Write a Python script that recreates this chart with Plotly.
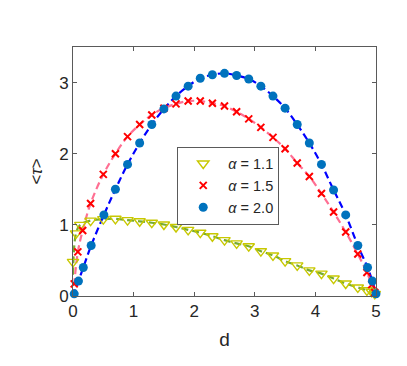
import plotly.graph_objects as go

# alpha = 2.0 (blue circles)
d_a20 = [0.02, 0.09, 0.17, 0.30, 0.51, 0.70, 0.90, 1.10, 1.30, 1.50, 1.70, 1.90, 2.10, 2.30, 2.50,
         2.70, 2.90, 3.10, 3.30, 3.50, 3.70, 3.90, 4.10, 4.30, 4.50, 4.70, 4.86, 4.94, 5.00]
t_a20 = [0.03, 0.21, 0.40, 0.71, 1.14, 1.50, 1.85, 2.15, 2.41, 2.63, 2.81, 2.95, 3.06, 3.11, 3.13,
         3.10, 3.05, 2.95, 2.81, 2.64, 2.41, 2.15, 1.85, 1.49, 1.14, 0.71, 0.40, 0.21, 0.03]

# alpha = 1.5 (red crosses)
d_a15 = [0.02, 0.08, 0.16, 0.29, 0.50, 0.70, 0.90, 1.10, 1.30, 1.50, 1.70, 1.90, 2.10, 2.30, 2.50,
         2.70, 2.90, 3.10, 3.30, 3.50, 3.70, 3.90, 4.10, 4.30, 4.50, 4.70, 4.85, 4.93, 4.98]
t_a15 = [0.17, 0.62, 0.92, 1.30, 1.71, 2.00, 2.24, 2.41, 2.545, 2.64, 2.70, 2.74, 2.74, 2.71, 2.67,
         2.59, 2.49, 2.37, 2.23, 2.07, 1.87, 1.68, 1.44, 1.18, 0.90, 0.59, 0.33, 0.16, 0.05]

# alpha = 1.1 (yellow triangles)
d_a11 = [0.00, 0.05, 0.12, 0.29, 0.50, 0.70, 0.90, 1.10, 1.30, 1.50, 1.70, 1.90, 2.10, 2.30, 2.50,
         2.70, 2.90, 3.10, 3.30, 3.50, 3.70, 3.90, 4.10, 4.30, 4.50, 4.70, 4.85, 4.93, 4.98]
t_a11 = [0.48, 0.88, 1.00, 1.06, 1.08, 1.085, 1.066, 1.05, 1.03, 1.005, 0.97, 0.93, 0.89, 0.84, 0.785,
         0.74, 0.70, 0.63, 0.57, 0.49, 0.43, 0.36, 0.315, 0.245, 0.175, 0.12, 0.08, 0.06, 0.03]

# fitted dashed curves
fit_d20 = [0.0] + d_a20
fit_t20 = [0.0] + t_a20
fit_d15 = [0.0] + d_a15 + [5.0]
fit_t15 = [0.0] + t_a15 + [0.0]
fit_d11 = [0.0] + d_a11[1:] + [5.0]
fit_t11 = [0.30] + t_a11[1:] + [0.0]

fig = go.Figure()

dash = "7px,4px"
fig.add_trace(go.Scatter(x=fit_d11, y=fit_t11, mode="lines", line_shape="spline",
                         line=dict(color="#77AC30", width=2.2, dash=dash), showlegend=False,
                         cliponaxis=False))
fig.add_trace(go.Scatter(x=fit_d15, y=fit_t15, mode="lines", line_shape="spline",
                         line=dict(color="#FF6F93", width=2.2, dash=dash), showlegend=False,
                         cliponaxis=False))
fig.add_trace(go.Scatter(x=fit_d20, y=fit_t20, mode="lines", line_shape="spline",
                         line=dict(color="#0000FF", width=2.2, dash=dash), showlegend=False,
                         cliponaxis=False))

fig.add_trace(go.Scatter(x=d_a11, y=t_a11, mode="markers", name="<i>α</i> = 1.1",
                         marker=dict(symbol="triangle-down-open", size=10, color="#C8C800",
                                     line=dict(width=1.4)),
                         cliponaxis=False))
fig.add_trace(go.Scatter(x=d_a15, y=t_a15, mode="markers", name="<i>α</i> = 1.5",
                         marker=dict(symbol="x-thin", size=7, color="#FF0000",
                                     line=dict(width=2, color="#FF0000")),
                         cliponaxis=False))
fig.add_trace(go.Scatter(x=d_a20, y=t_a20, mode="markers", name="<i>α</i> = 2.0",
                         marker=dict(symbol="circle", size=9, color="#0072BD"),
                         cliponaxis=False))

axis_common = dict(showline=True, linecolor="#5a5a5a", linewidth=1, mirror="ticks",
                   ticks="inside", ticklen=4, tickcolor="#5a5a5a", showgrid=False,
                   zeroline=False, automargin=False,
                   tickfont=dict(size=17, color="#262626"))

fig.update_xaxes(range=[0, 5], tickvals=[0, 1, 2, 3, 4, 5],
                 title=dict(text="d", font=dict(size=19, color="#262626"), standoff=12),
                 **axis_common)
fig.update_yaxes(range=[0, 3.5], tickvals=[0, 1, 2, 3],
                 title=dict(text="&lt;<i>τ</i>&gt;", font=dict(size=17, color="#262626"), standoff=12),
                 **axis_common)

# page body has an 8px margin, so the figure is shrunk and offset accordingly
fig.update_layout(
    width=399, height=358,
    margin=dict(l=65, r=31, t=39, b=70),
    paper_bgcolor="white", plot_bgcolor="white",
    font=dict(family="Liberation Sans, Arial, sans-serif", color="#262626"),
    legend=dict(x=0.344, y=0.60, xanchor="left", yanchor="top",
                bordercolor="#5a5a5a", borderwidth=1, bgcolor="white",
                font=dict(size=14.5), tracegroupgap=0, itemwidth=40),
)

fig.write_html("out.html")
